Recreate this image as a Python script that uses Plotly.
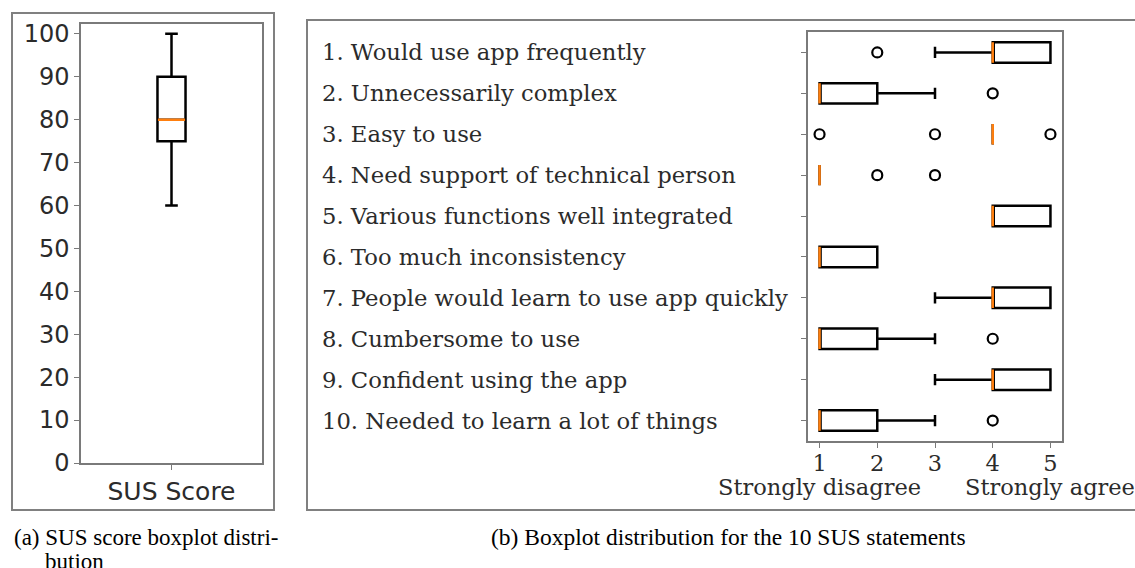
import plotly.graph_objects as go

W, H = 1135, 568

# (a) SUS score
sus_q1 = 75
sus_median = 80
sus_q3 = 90
sus_low = 60
sus_high = 100

# (b) SUS statements (1 = strongly disagree, 5 = strongly agree)
statements = [
    "1. Would use app frequently",
    "2. Unnecessarily complex",
    "3. Easy to use",
    "4. Need support of technical person",
    "5. Various functions well integrated",
    "6. Too much inconsistency",
    "7. People would learn to use app quickly",
    "8. Cumbersome to use",
    "9. Confident using the app",
    "10. Needed to learn a lot of things",
]
q1 = [4, 1, 4, 1, 4, 1, 4, 1, 4, 1]
median = [4, 1, 4, 1, 4, 1, 4, 1, 4, 1]
q3 = [5, 2, 4, 1, 5, 2, 5, 2, 5, 2]
lowerfence = [3, 1, 4, 1, 4, 1, 3, 1, 3, 1]
upperfence = [5, 3, 4, 1, 5, 2, 5, 3, 5, 3]
outliers = [[2], [4], [1, 3, 5], [2, 3], [], [], [], [4], [], [4]]

likert_ticks = [1, 2, 3, 4, 5]
likert_ends = {1: "Strongly disagree", 5: "Strongly agree"}

AX = "#7a7a7a"
TXT = "#2b2b2b"
ORANGE = "#ff7f0e"
SANS = "DejaVu Sans"
SERIF = "DejaVu Serif"
CAPTION = "Liberation Serif"


def px_x(p):
    return p / W


def px_y(p):
    return 1 - p / H


fig = go.Figure()

# left box
fig.add_trace(go.Box(
    x=["SUS Score"], q1=[sus_q1], median=[sus_median], q3=[sus_q3],
    lowerfence=[sus_low], upperfence=[sus_high],
    width=0.155, whiskerwidth=0.45,
    line=dict(color="black", width=2.5), fillcolor="rgba(0,0,0,0)",
    boxpoints=False, xaxis="x", yaxis="y", showlegend=False, hoverinfo="skip",
))
# orange median
fig.add_trace(go.Box(
    x=["SUS Score"], q1=[sus_median], median=[sus_median], q3=[sus_median],
    lowerfence=[sus_median], upperfence=[sus_median],
    width=0.15, whiskerwidth=0,
    line=dict(color=ORANGE, width=2.5), fillcolor="rgba(0,0,0,0)",
    boxpoints=False, xaxis="x", yaxis="y", showlegend=False, hoverinfo="skip",
))

# right boxes
fig.add_trace(go.Box(
    y=statements, q1=q1, median=median, q3=q3,
    lowerfence=lowerfence, upperfence=upperfence, orientation="h",
    width=0.5, whiskerwidth=0.55,
    line=dict(color="black", width=2.5), fillcolor="rgba(0,0,0,0)",
    boxpoints=False, xaxis="x2", yaxis="y2", showlegend=False, hoverinfo="skip",
))
fig.add_trace(go.Box(
    y=statements, q1=median, median=median, q3=median,
    lowerfence=median, upperfence=median, orientation="h",
    width=0.5, whiskerwidth=0,
    line=dict(color=ORANGE, width=2.5), fillcolor="rgba(0,0,0,0)",
    boxpoints=False, xaxis="x2", yaxis="y2", showlegend=False, hoverinfo="skip",
))

ox, oy = [], []
for s, pts in zip(statements, outliers):
    for v in pts:
        ox.append(v)
        oy.append(s)
fig.add_trace(go.Scatter(
    x=ox, y=oy, mode="markers", xaxis="x2", yaxis="y2",
    marker=dict(symbol="circle-open", size=10, color="black", line=dict(width=2.2)),
    showlegend=False, hoverinfo="skip",
))

axis_common = dict(showline=True, linecolor=AX, linewidth=1.5, mirror=True,
                   showgrid=False, zeroline=False, ticks="outside",
                   tickcolor=AX, ticklen=5, tickwidth=1.2, automargin=False,
                   tickangle=0, ticklabeloverflow="allow")

fig.update_layout(
    width=W, height=H,
    margin=dict(l=0, r=0, t=0, b=0),
    paper_bgcolor="white", plot_bgcolor="white",
    xaxis=dict(domain=[px_x(81), px_x(262)], range=[-0.5, 0.5],
               tickfont=dict(family=SANS, size=25, color=TXT), **axis_common),
    yaxis=dict(domain=[px_y(463), px_y(24)], range=[0, 102.3],
               tickvals=list(range(0, 101, 10)),
               tickfont=dict(family=SANS, size=24, color=TXT), **axis_common),
    xaxis2=dict(domain=[px_x(808), px_x(1062)], range=[0.8, 5.2],
                tickvals=likert_ticks, anchor="y2", ticklabelstandoff=-4,
                tickfont=dict(family=SERIF, size=22.5, color=TXT), **axis_common),
    yaxis2=dict(domain=[px_y(441), px_y(32)], range=[9.5, -0.5],
                showticklabels=False, anchor="x2", **axis_common),
)

# scale end labels under 1 and 5
for v, t in likert_ends.items():
    fig.add_annotation(x=v, xref="x2", y=px_y(487), yref="paper",
                       text=t, showarrow=False, xanchor="center", yanchor="middle",
                       font=dict(family=SERIF, size=22.5, color=TXT))

# left-aligned statement labels
for s in statements:
    fig.add_annotation(x=px_x(320), xref="paper", y=s, yref="y2",
                       text=s, showarrow=False, xanchor="left", yanchor="middle",
                       font=dict(family=SERIF, size=22.7, color=TXT))

# subfigure frames
fig.add_shape(type="rect", xref="paper", yref="paper",
              x0=px_x(12), x1=px_x(274), y0=px_y(510), y1=px_y(13),
              line=dict(color="#808080", width=2))
fig.add_shape(type="rect", xref="paper", yref="paper",
              x0=px_x(307), x1=px_x(1145), y0=px_y(510), y1=px_y(20),
              line=dict(color="#808080", width=2))

# captions
fig.add_annotation(x=px_x(12), y=px_y(537), xref="paper", yref="paper",
                   text="(a) SUS score boxplot distri-", showarrow=False,
                   xanchor="left", yanchor="middle",
                   font=dict(family=CAPTION, size=23, color="black"))
fig.add_annotation(x=px_x(43), y=px_y(561), xref="paper", yref="paper",
                   text="bution", showarrow=False,
                   xanchor="left", yanchor="middle",
                   font=dict(family=CAPTION, size=23, color="black"))
fig.add_annotation(x=px_x(728), y=px_y(537), xref="paper", yref="paper",
                   text="(b) Boxplot distribution for the 10 SUS statements",
                   showarrow=False, xanchor="center", yanchor="middle",
                   font=dict(family=CAPTION, size=23.5, color="black"))

fig.write_html("out.html", config={"displayModeBar": False},
               post_script="document.body.style.margin='0';")
